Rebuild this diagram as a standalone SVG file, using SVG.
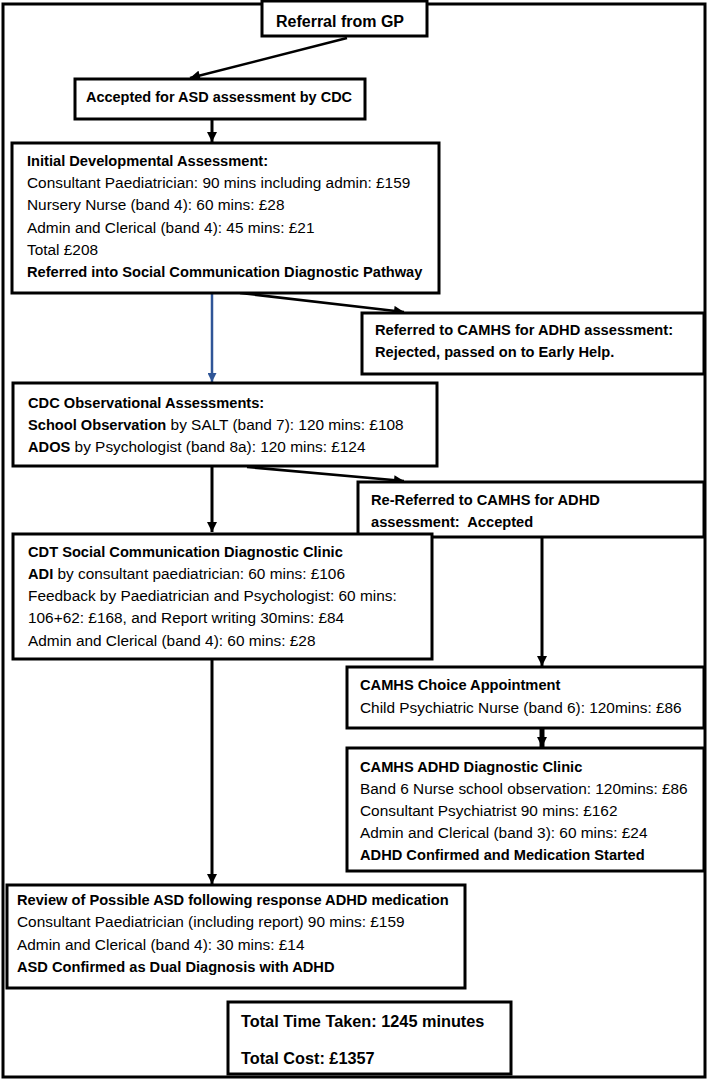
<svg xmlns="http://www.w3.org/2000/svg" width="708" height="1080" viewBox="0 0 708 1080">
<defs>
<style>
.box{fill:#fff;stroke:#000;stroke-width:3}
text{font-family:"Liberation Sans",Arial,sans-serif;font-size:15.4px;fill:#000}
.b{font-weight:bold;font-size:14.65px}
.c{stroke:#000;stroke-width:2.5;fill:none}
.t{stroke:#000;stroke-width:3;fill:none}
</style>
<marker id="ah" viewBox="0 0 10 10" refX="10" refY="5" markerWidth="11" markerHeight="10" markerUnits="userSpaceOnUse" orient="auto"><path d="M0,0 L10,5 L0,10 z" fill="#000"/></marker>
<marker id="ahb" viewBox="0 0 10 10" refX="10" refY="5" markerWidth="9" markerHeight="9" markerUnits="userSpaceOnUse" orient="auto"><path d="M0,0 L10,5 L0,10 z" fill="#2F5597"/></marker>
<marker id="ahk" viewBox="0 0 10 10" refX="10" refY="5" markerWidth="10" markerHeight="13" markerUnits="userSpaceOnUse" orient="auto"><path d="M0,0 L10,5 L0,10 z" fill="#000"/></marker>
</defs>
<rect x="3" y="4" width="702" height="1073" fill="#fff" stroke="#000" stroke-width="3"/>

<g id="connectors">
<line class="c" x1="347" y1="38" x2="190" y2="78" marker-end="url(#ah)"/>
<line class="t" x1="212" y1="120" x2="212" y2="142" marker-end="url(#ah)"/>
<line x1="212" y1="294" x2="212" y2="382" stroke="#2F5597" stroke-width="2.5" marker-end="url(#ahb)"/>
<line class="c" x1="240" y1="293" x2="404" y2="312" marker-end="url(#ah)"/>
<line class="t" x1="212" y1="467" x2="212" y2="532" marker-end="url(#ah)"/>
<line class="c" x1="247" y1="467" x2="404" y2="481" marker-end="url(#ah)"/>
<line class="t" x1="212" y1="660" x2="212" y2="884" marker-end="url(#ah)"/>
<line class="t" x1="542" y1="538" x2="542" y2="666" marker-end="url(#ah)"/>
<line x1="542" y1="729" x2="542" y2="747" stroke="#000" stroke-width="5" marker-end="url(#ahk)"/>
</g>

<g id="n-referral">
<rect class="box" x="262" y="1" width="165" height="35"/>
<text class="b" x="340" y="27" text-anchor="middle" style="font-size:16px">Referral from GP</text>
</g>

<g id="n-accepted">
<rect class="box" x="75" y="79" width="290" height="40"/>
<text class="b" x="219" y="102" text-anchor="middle" style="font-size:14.5px">Accepted for ASD assessment by CDC</text>
</g>

<g id="n-initial">
<rect class="box" x="12" y="143" width="427" height="150"/>
<text class="b" x="27" y="166">Initial Developmental Assessment:</text>
<text x="27" y="188">Consultant Paediatrician: 90 mins including admin: £159</text>
<text x="27" y="210">Nursery Nurse (band 4): 60 mins: £28</text>
<text x="27" y="233">Admin and Clerical (band 4): 45 mins: £21</text>
<text x="27" y="255">Total £208</text>
<text class="b" x="27" y="277">Referred into Social Communication Diagnostic Pathway</text>
</g>

<g id="n-camhs-rejected">
<rect class="box" x="362" y="313" width="342" height="61"/>
<text class="b" x="375" y="335">Referred to CAMHS for ADHD assessment:</text>
<text class="b" x="375" y="357">Rejected, passed on to Early Help.</text>
</g>

<g id="n-cdc-obs">
<rect class="box" x="13" y="383" width="424" height="83"/>
<text class="b" x="28" y="408">CDC Observational Assessments:</text>
<text x="28" y="430"><tspan class="b">School Observation</tspan> by SALT (band 7): 120 mins: £108</text>
<text x="28" y="452"><tspan class="b">ADOS</tspan> by Psychologist (band 8a): 120 mins: £124</text>
</g>

<g id="n-rereferred">
<rect class="box" x="358" y="482" width="346" height="55"/>
<text class="b" x="371" y="505">Re-Referred to CAMHS for ADHD</text>
<text class="b" x="371" y="527" style="white-space:pre">assessment:  Accepted</text>
</g>

<g id="n-cdt">
<rect class="box" x="13" y="534" width="419" height="125"/>
<text class="b" x="28" y="557">CDT Social Communication Diagnostic Clinic</text>
<text x="28" y="579"><tspan class="b">ADI</tspan> by consultant paediatrician: 60 mins: £106</text>
<text x="28" y="601">Feedback by Paediatrician and Psychologist: 60 mins:</text>
<text x="28" y="623">106+62: £168, and Report writing 30mins: £84</text>
<text x="28" y="646">Admin and Clerical (band 4): 60 mins: £28</text>
</g>

<g id="n-camhs-choice">
<rect class="box" x="347" y="667" width="357" height="61"/>
<text class="b" x="360" y="690">CAMHS Choice Appointment</text>
<text x="360" y="713">Child Psychiatric Nurse (band 6): 120mins: £86</text>
</g>

<g id="n-camhs-adhd">
<rect class="box" x="347" y="748" width="357" height="123"/>
<text class="b" x="360" y="772">CAMHS ADHD Diagnostic Clinic</text>
<text x="360" y="794">Band 6 Nurse school observation: 120mins: £86</text>
<text x="360" y="816">Consultant Psychiatrist 90 mins: £162</text>
<text x="360" y="838">Admin and Clerical (band 3): 60 mins: £24</text>
<text class="b" x="360" y="860">ADHD Confirmed and Medication Started</text>
</g>

<g id="n-review">
<rect class="box" x="7" y="885" width="458" height="103"/>
<text class="b" x="17" y="905">Review of Possible ASD following response ADHD medication</text>
<text x="17" y="927">Consultant Paediatrician (including report) 90 mins: £159</text>
<text x="17" y="950">Admin and Clerical (band 4): 30 mins: £14</text>
<text class="b" x="17" y="972">ASD Confirmed as Dual Diagnosis with ADHD</text>
</g>

<g id="n-total">
<rect class="box" x="228" y="1002" width="283" height="72"/>
<text class="b" x="241" y="1027" style="font-size:16.3px">Total Time Taken: 1245 minutes</text>
<text class="b" x="241" y="1064" style="font-size:16.3px">Total Cost: £1357</text>
</g>
</svg>
